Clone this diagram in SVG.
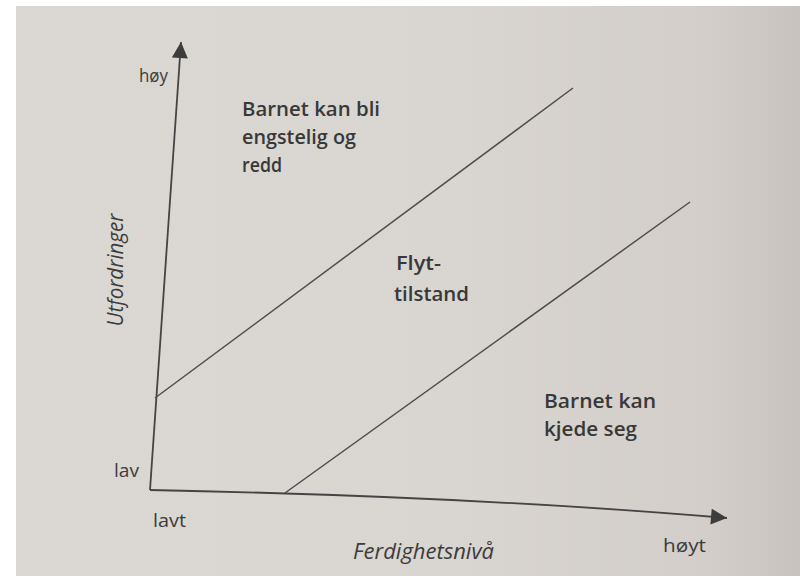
<svg xmlns="http://www.w3.org/2000/svg" width="800" height="576" viewBox="0 0 800 576">
  <defs>
    <linearGradient id="paper" x1="0" y1="0" x2="1" y2="0">
      <stop offset="0" stop-color="#dbd7d2"/>
      <stop offset="0.55" stop-color="#d9d5d0"/>
      <stop offset="0.88" stop-color="#d3cec9"/>
      <stop offset="1" stop-color="#c8c3be"/>
    </linearGradient>
    <marker id="arrow" viewBox="0 0 10 10" refX="10" refY="5" markerUnits="userSpaceOnUse" markerWidth="18" markerHeight="16" orient="auto">
      <path d="M0,0 L10,5 L0,10 z" fill="#3c3c3c"/>
    </marker>
    <style>
      .axis { fill: none; stroke: #444; stroke-width: 1.8; }
      .diag { fill: none; stroke: #4e4e4e; stroke-width: 1.5; }
      .region { font-family: "Open Sans", "Noto Sans", sans-serif; font-weight: 600; font-size: 20px; fill: #383838; }
      .tick { font-family: "Open Sans", "Noto Sans", sans-serif; font-weight: 500; font-size: 19px; fill: #3c3c3c; }
      .title { font-family: "Open Sans", "Noto Sans", sans-serif; font-style: italic; font-weight: 500; font-size: 21px; fill: #3c3c3c; }
    </style>
  </defs>

  <rect x="0" y="0" width="800" height="576" fill="#ffffff"/>
  <rect x="16" y="6" width="784" height="570" fill="url(#paper)"/>

  <g id="connectors">
    <path id="y-axis" class="axis" d="M150,490 L181,42" marker-end="url(#arrow)"/>
    <path id="x-axis" class="axis" d="M150,490 C350,494 550,503 727,518" marker-end="url(#arrow)"/>
    <path id="upper-boundary" class="diag" d="M155,398 L573,88"/>
    <path id="lower-boundary" class="diag" d="M285,493 L690,202"/>
  </g>

  <g id="region-anxious">
    <text class="region" x="242" y="116" textLength="138" lengthAdjust="spacingAndGlyphs">Barnet kan bli</text>
    <text class="region" x="242" y="144" textLength="114" lengthAdjust="spacingAndGlyphs">engstelig og</text>
    <text class="region" x="242" y="172" textLength="40" lengthAdjust="spacingAndGlyphs">redd</text>
  </g>

  <g id="region-flow">
    <text class="region" x="396" y="270" textLength="45" lengthAdjust="spacingAndGlyphs">Flyt-</text>
    <text class="region" x="394" y="301" textLength="75" lengthAdjust="spacingAndGlyphs">tilstand</text>
  </g>

  <g id="region-bored">
    <text class="region" x="544" y="408" textLength="112" lengthAdjust="spacingAndGlyphs">Barnet kan</text>
    <text class="region" x="544" y="436" textLength="93" lengthAdjust="spacingAndGlyphs">kjede seg</text>
  </g>

  <g id="y-label">
    <text class="title" transform="translate(123,270) rotate(-90)" text-anchor="middle" textLength="113" lengthAdjust="spacingAndGlyphs">Utfordringer</text>
    <text class="tick" x="139" y="82" textLength="29" lengthAdjust="spacingAndGlyphs">høy</text>
    <text class="tick" x="114" y="477" textLength="25" lengthAdjust="spacingAndGlyphs">lav</text>
  </g>

  <g id="x-label">
    <text class="title" x="353" y="559" font-size="22" textLength="141" lengthAdjust="spacingAndGlyphs">Ferdighetsnivå</text>
    <text class="tick" x="153" y="527" textLength="33" lengthAdjust="spacingAndGlyphs">lavt</text>
    <text class="tick" x="663" y="552" textLength="43" lengthAdjust="spacingAndGlyphs">høyt</text>
  </g>
</svg>
